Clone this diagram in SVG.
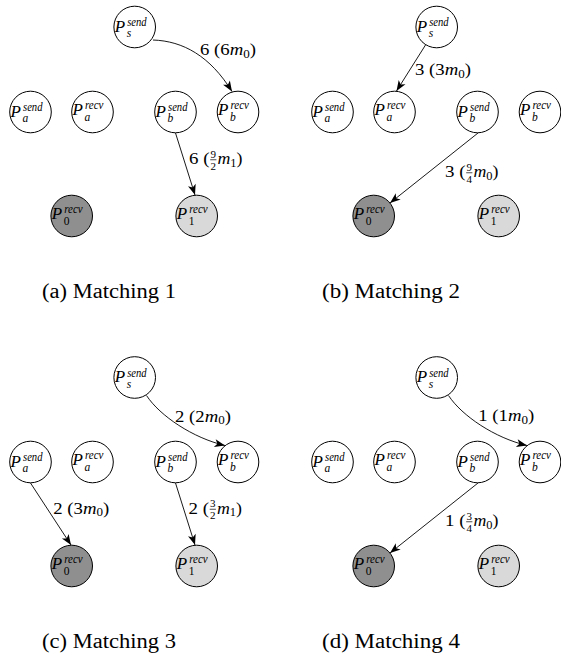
<svg xmlns="http://www.w3.org/2000/svg" width="561" height="656" viewBox="0 0 561 656" style="font-family:'Liberation Serif','Times New Roman',serif">
<defs>
<marker id="ah" viewBox="-11 -5 12 10" refX="0" refY="0" markerWidth="12" markerHeight="10" markerUnits="userSpaceOnUse" orient="auto">
<path d="M0,0 L-10.5,-4 L-7.8,0 L-10.5,4 Z" fill="#000"/>
</marker>
<style>
.n{fill:#fff;stroke:#000;stroke-width:1}
.dk{fill:#8f8f8f}
.lt{fill:#d9d9d9}
.e{fill:none;stroke:#000;stroke-width:0.9;marker-end:url(#ah)}
text{fill:#000}
.P{font-style:italic;font-size:17px}
.s{font-style:italic;font-size:11.5px}
.d{font-style:normal;font-size:11.5px}
.lb{font-size:16.5px}
.m{font-style:italic}
.sb{font-size:11.5px;font-style:normal}
.fr{font-size:11px;text-anchor:middle}
.bar{stroke:#000;stroke-width:0.7}
.cap{font-size:20px}
</style>
</defs>

<!-- Panel (a) -->
<g id="panel-a">
<g id="a-Ps-send"><circle class="n" cx="134.7" cy="27" r="20.8"/><text class="P"><tspan x="114.7" y="31.5">P</tspan><tspan class="s" x="127.2" y="26" textLength="19.5" lengthAdjust="spacingAndGlyphs">send</tspan><tspan class="s" x="126.7" y="37">s</tspan></text></g>
<g id="a-Pa-send"><circle class="n" cx="30.5" cy="112" r="20.8"/><text class="P"><tspan x="10.5" y="116.5">P</tspan><tspan class="s" x="23" y="111" textLength="19.5" lengthAdjust="spacingAndGlyphs">send</tspan><tspan class="s" x="22.5" y="122">a</tspan></text></g>
<g id="a-Pa-recv"><circle class="n" cx="92.5" cy="112" r="20.8"/><text class="P"><tspan x="72.5" y="114.5">P</tspan><tspan class="s" x="85" y="109" textLength="18.5" lengthAdjust="spacingAndGlyphs">recv</tspan><tspan class="s" x="84.5" y="121">a</tspan></text></g>
<g id="a-Pb-send"><circle class="n" cx="175.5" cy="112" r="20.8"/><text class="P"><tspan x="155.5" y="116.5">P</tspan><tspan class="s" x="168" y="111" textLength="19.5" lengthAdjust="spacingAndGlyphs">send</tspan><tspan class="s" x="167.5" y="122">b</tspan></text></g>
<g id="a-Pb-recv"><circle class="n" cx="238" cy="112" r="20.8"/><text class="P"><tspan x="218" y="114.5">P</tspan><tspan class="s" x="230.5" y="109" textLength="18.5" lengthAdjust="spacingAndGlyphs">recv</tspan><tspan class="s" x="230" y="121">b</tspan></text></g>
<g id="a-P0-recv"><circle class="n dk" cx="71.7" cy="216" r="20.8"/><text class="P"><tspan x="51.7" y="218.5">P</tspan><tspan class="s" x="64.2" y="213" textLength="18.5" lengthAdjust="spacingAndGlyphs">recv</tspan><tspan class="d" x="63.7" y="225">0</tspan></text></g>
<g id="a-P1-recv"><circle class="n lt" cx="196.7" cy="216" r="20.8"/><text class="P"><tspan x="176.7" y="218.5">P</tspan><tspan class="s" x="189.2" y="213" textLength="18.5" lengthAdjust="spacingAndGlyphs">recv</tspan><tspan class="d" x="188.7" y="225">1</tspan></text></g>
<g id="a-edges">
<path class="e" d="M153,40 C183,41 210,56 232,91.5"/>
<path class="e" d="M175.5,133 L195,195"/>
<text class="lb" x="200" y="55" textLength="56" lengthAdjust="spacingAndGlyphs">6 (6<tspan class="m">m</tspan><tspan class="sb" dy="2.5">0</tspan><tspan dy="-2.5">)</tspan></text>
<text class="lb" x="189" y="164" textLength="20.5" lengthAdjust="spacingAndGlyphs">6 (</text>
<text class="fr" x="213.3" y="157.5">9</text><line class="bar" x1="210.2" y1="159.75" x2="216.4" y2="159.75"/><text class="fr" x="213.3" y="169.5">2</text>
<text class="lb" x="217.5" y="164" textLength="25" lengthAdjust="spacingAndGlyphs"><tspan class="m">m</tspan><tspan class="sb" dy="2.5">1</tspan><tspan dy="-2.5">)</tspan></text>
</g>
<text class="cap" x="42" y="298" textLength="134" lengthAdjust="spacingAndGlyphs">(a) Matching 1</text>
</g>

<!-- Panel (b) -->
<g id="panel-b" transform="translate(302,0)">
<g id="b-Ps-send"><circle class="n" cx="134.7" cy="27" r="20.8"/><text class="P"><tspan x="114.7" y="31.5">P</tspan><tspan class="s" x="127.2" y="26" textLength="19.5" lengthAdjust="spacingAndGlyphs">send</tspan><tspan class="s" x="126.7" y="37">s</tspan></text></g>
<g id="b-Pa-send"><circle class="n" cx="30.5" cy="112" r="20.8"/><text class="P"><tspan x="10.5" y="116.5">P</tspan><tspan class="s" x="23" y="111" textLength="19.5" lengthAdjust="spacingAndGlyphs">send</tspan><tspan class="s" x="22.5" y="122">a</tspan></text></g>
<g id="b-Pa-recv"><circle class="n" cx="92.5" cy="112" r="20.8"/><text class="P"><tspan x="72.5" y="114.5">P</tspan><tspan class="s" x="85" y="109" textLength="18.5" lengthAdjust="spacingAndGlyphs">recv</tspan><tspan class="s" x="84.5" y="121">a</tspan></text></g>
<g id="b-Pb-send"><circle class="n" cx="175.5" cy="112" r="20.8"/><text class="P"><tspan x="155.5" y="116.5">P</tspan><tspan class="s" x="168" y="111" textLength="19.5" lengthAdjust="spacingAndGlyphs">send</tspan><tspan class="s" x="167.5" y="122">b</tspan></text></g>
<g id="b-Pb-recv"><circle class="n" cx="238" cy="112" r="20.8"/><text class="P"><tspan x="218" y="114.5">P</tspan><tspan class="s" x="230.5" y="109" textLength="18.5" lengthAdjust="spacingAndGlyphs">recv</tspan><tspan class="s" x="230" y="121">b</tspan></text></g>
<g id="b-P0-recv"><circle class="n dk" cx="71.7" cy="216" r="20.8"/><text class="P"><tspan x="51.7" y="218.5">P</tspan><tspan class="s" x="64.2" y="213" textLength="18.5" lengthAdjust="spacingAndGlyphs">recv</tspan><tspan class="d" x="63.7" y="225">0</tspan></text></g>
<g id="b-P1-recv"><circle class="n lt" cx="196.7" cy="216" r="20.8"/><text class="P"><tspan x="176.7" y="218.5">P</tspan><tspan class="s" x="189.2" y="213" textLength="18.5" lengthAdjust="spacingAndGlyphs">recv</tspan><tspan class="d" x="188.7" y="225">1</tspan></text></g>
<g id="b-edges">
<path class="e" d="M123.5,45 L94.5,91"/>
<path class="e" d="M176,133 L88,203"/>
<text class="lb" x="113" y="75" textLength="56" lengthAdjust="spacingAndGlyphs">3 (3<tspan class="m">m</tspan><tspan class="sb" dy="2.5">0</tspan><tspan dy="-2.5">)</tspan></text>
<text class="lb" x="143" y="177" textLength="20.5" lengthAdjust="spacingAndGlyphs">3 (</text>
<text class="fr" x="167.3" y="170.5">9</text><line class="bar" x1="164.2" y1="172.75" x2="170.4" y2="172.75"/><text class="fr" x="167.3" y="182.5">4</text>
<text class="lb" x="171.5" y="177" textLength="25" lengthAdjust="spacingAndGlyphs"><tspan class="m">m</tspan><tspan class="sb" dy="2.5">0</tspan><tspan dy="-2.5">)</tspan></text>
</g>
<text class="cap" x="20" y="298" textLength="138" lengthAdjust="spacingAndGlyphs">(b) Matching 2</text>
</g>

<!-- Panel (c) -->
<g id="panel-c" transform="translate(0,350)">
<g id="c-Ps-send"><circle class="n" cx="134.7" cy="27.5" r="20.8"/><text class="P"><tspan x="114.7" y="32">P</tspan><tspan class="s" x="127.2" y="26.5" textLength="19.5" lengthAdjust="spacingAndGlyphs">send</tspan><tspan class="s" x="126.7" y="37.5">s</tspan></text></g>
<g id="c-Pa-send"><circle class="n" cx="30.5" cy="112" r="20.8"/><text class="P"><tspan x="10.5" y="116.5">P</tspan><tspan class="s" x="23" y="111" textLength="19.5" lengthAdjust="spacingAndGlyphs">send</tspan><tspan class="s" x="22.5" y="122">a</tspan></text></g>
<g id="c-Pa-recv"><circle class="n" cx="92.5" cy="112" r="20.8"/><text class="P"><tspan x="72.5" y="114.5">P</tspan><tspan class="s" x="85" y="109" textLength="18.5" lengthAdjust="spacingAndGlyphs">recv</tspan><tspan class="s" x="84.5" y="121">a</tspan></text></g>
<g id="c-Pb-send"><circle class="n" cx="175.5" cy="112" r="20.8"/><text class="P"><tspan x="155.5" y="116.5">P</tspan><tspan class="s" x="168" y="111" textLength="19.5" lengthAdjust="spacingAndGlyphs">send</tspan><tspan class="s" x="167.5" y="122">b</tspan></text></g>
<g id="c-Pb-recv"><circle class="n" cx="238" cy="112" r="20.8"/><text class="P"><tspan x="218" y="114.5">P</tspan><tspan class="s" x="230.5" y="109" textLength="18.5" lengthAdjust="spacingAndGlyphs">recv</tspan><tspan class="s" x="230" y="121">b</tspan></text></g>
<g id="c-P0-recv"><circle class="n dk" cx="71.7" cy="216" r="20.8"/><text class="P"><tspan x="51.7" y="218.5">P</tspan><tspan class="s" x="64.2" y="213" textLength="18.5" lengthAdjust="spacingAndGlyphs">recv</tspan><tspan class="d" x="63.7" y="225">0</tspan></text></g>
<g id="c-P1-recv"><circle class="n lt" cx="196.7" cy="216" r="20.8"/><text class="P"><tspan x="176.7" y="218.5">P</tspan><tspan class="s" x="189.2" y="213" textLength="18.5" lengthAdjust="spacingAndGlyphs">recv</tspan><tspan class="d" x="188.7" y="225">1</tspan></text></g>
<g id="c-edges">
<path class="e" d="M146.5,45.5 C160,66 193,88 225,95.5"/>
<path class="e" d="M30.5,133 L71,195"/>
<path class="e" d="M175.5,133 L195,195"/>
<text class="lb" x="175" y="71.7" textLength="56" lengthAdjust="spacingAndGlyphs">2 (2<tspan class="m">m</tspan><tspan class="sb" dy="2.5">0</tspan><tspan dy="-2.5">)</tspan></text>
<text class="lb" x="53.3" y="163.5" textLength="56" lengthAdjust="spacingAndGlyphs">2 (3<tspan class="m">m</tspan><tspan class="sb" dy="2.5">0</tspan><tspan dy="-2.5">)</tspan></text>
<text class="lb" x="188.5" y="163.5" textLength="20.5" lengthAdjust="spacingAndGlyphs">2 (</text>
<text class="fr" x="212.8" y="157">3</text><line class="bar" x1="209.7" y1="159.25" x2="215.9" y2="159.25"/><text class="fr" x="212.8" y="169">2</text>
<text class="lb" x="217" y="163.5" textLength="25" lengthAdjust="spacingAndGlyphs"><tspan class="m">m</tspan><tspan class="sb" dy="2.5">1</tspan><tspan dy="-2.5">)</tspan></text>
</g>
<text class="cap" x="42" y="298" textLength="134" lengthAdjust="spacingAndGlyphs">(c) Matching 3</text>
</g>

<!-- Panel (d) -->
<g id="panel-d" transform="translate(302,350)">
<g id="d-Ps-send"><circle class="n" cx="134.7" cy="27.5" r="20.8"/><text class="P"><tspan x="114.7" y="32">P</tspan><tspan class="s" x="127.2" y="26.5" textLength="19.5" lengthAdjust="spacingAndGlyphs">send</tspan><tspan class="s" x="126.7" y="37.5">s</tspan></text></g>
<g id="d-Pa-send"><circle class="n" cx="30.5" cy="112" r="20.8"/><text class="P"><tspan x="10.5" y="116.5">P</tspan><tspan class="s" x="23" y="111" textLength="19.5" lengthAdjust="spacingAndGlyphs">send</tspan><tspan class="s" x="22.5" y="122">a</tspan></text></g>
<g id="d-Pa-recv"><circle class="n" cx="92.5" cy="112" r="20.8"/><text class="P"><tspan x="72.5" y="114.5">P</tspan><tspan class="s" x="85" y="109" textLength="18.5" lengthAdjust="spacingAndGlyphs">recv</tspan><tspan class="s" x="84.5" y="121">a</tspan></text></g>
<g id="d-Pb-send"><circle class="n" cx="175.5" cy="112" r="20.8"/><text class="P"><tspan x="155.5" y="116.5">P</tspan><tspan class="s" x="168" y="111" textLength="19.5" lengthAdjust="spacingAndGlyphs">send</tspan><tspan class="s" x="167.5" y="122">b</tspan></text></g>
<g id="d-Pb-recv"><circle class="n" cx="238" cy="112" r="20.8"/><text class="P"><tspan x="218" y="114.5">P</tspan><tspan class="s" x="230.5" y="109" textLength="18.5" lengthAdjust="spacingAndGlyphs">recv</tspan><tspan class="s" x="230" y="121">b</tspan></text></g>
<g id="d-P0-recv"><circle class="n dk" cx="71.7" cy="216" r="20.8"/><text class="P"><tspan x="51.7" y="218.5">P</tspan><tspan class="s" x="64.2" y="213" textLength="18.5" lengthAdjust="spacingAndGlyphs">recv</tspan><tspan class="d" x="63.7" y="225">0</tspan></text></g>
<g id="d-P1-recv"><circle class="n lt" cx="196.7" cy="216" r="20.8"/><text class="P"><tspan x="176.7" y="218.5">P</tspan><tspan class="s" x="189.2" y="213" textLength="18.5" lengthAdjust="spacingAndGlyphs">recv</tspan><tspan class="d" x="188.7" y="225">1</tspan></text></g>
<g id="d-edges">
<path class="e" d="M146.5,45.5 C160,66 193,88 225,95.5"/>
<path class="e" d="M176,133 L88,203"/>
<text class="lb" x="176.3" y="71" textLength="56" lengthAdjust="spacingAndGlyphs">1 (1<tspan class="m">m</tspan><tspan class="sb" dy="2.5">0</tspan><tspan dy="-2.5">)</tspan></text>
<text class="lb" x="143" y="176" textLength="20.5" lengthAdjust="spacingAndGlyphs">1 (</text>
<text class="fr" x="167.3" y="169.5">3</text><line class="bar" x1="164.2" y1="171.75" x2="170.4" y2="171.75"/><text class="fr" x="167.3" y="181.5">4</text>
<text class="lb" x="171.5" y="176" textLength="25" lengthAdjust="spacingAndGlyphs"><tspan class="m">m</tspan><tspan class="sb" dy="2.5">0</tspan><tspan dy="-2.5">)</tspan></text>
</g>
<text class="cap" x="20" y="298" textLength="138" lengthAdjust="spacingAndGlyphs">(d) Matching 4</text>
</g>
</svg>
